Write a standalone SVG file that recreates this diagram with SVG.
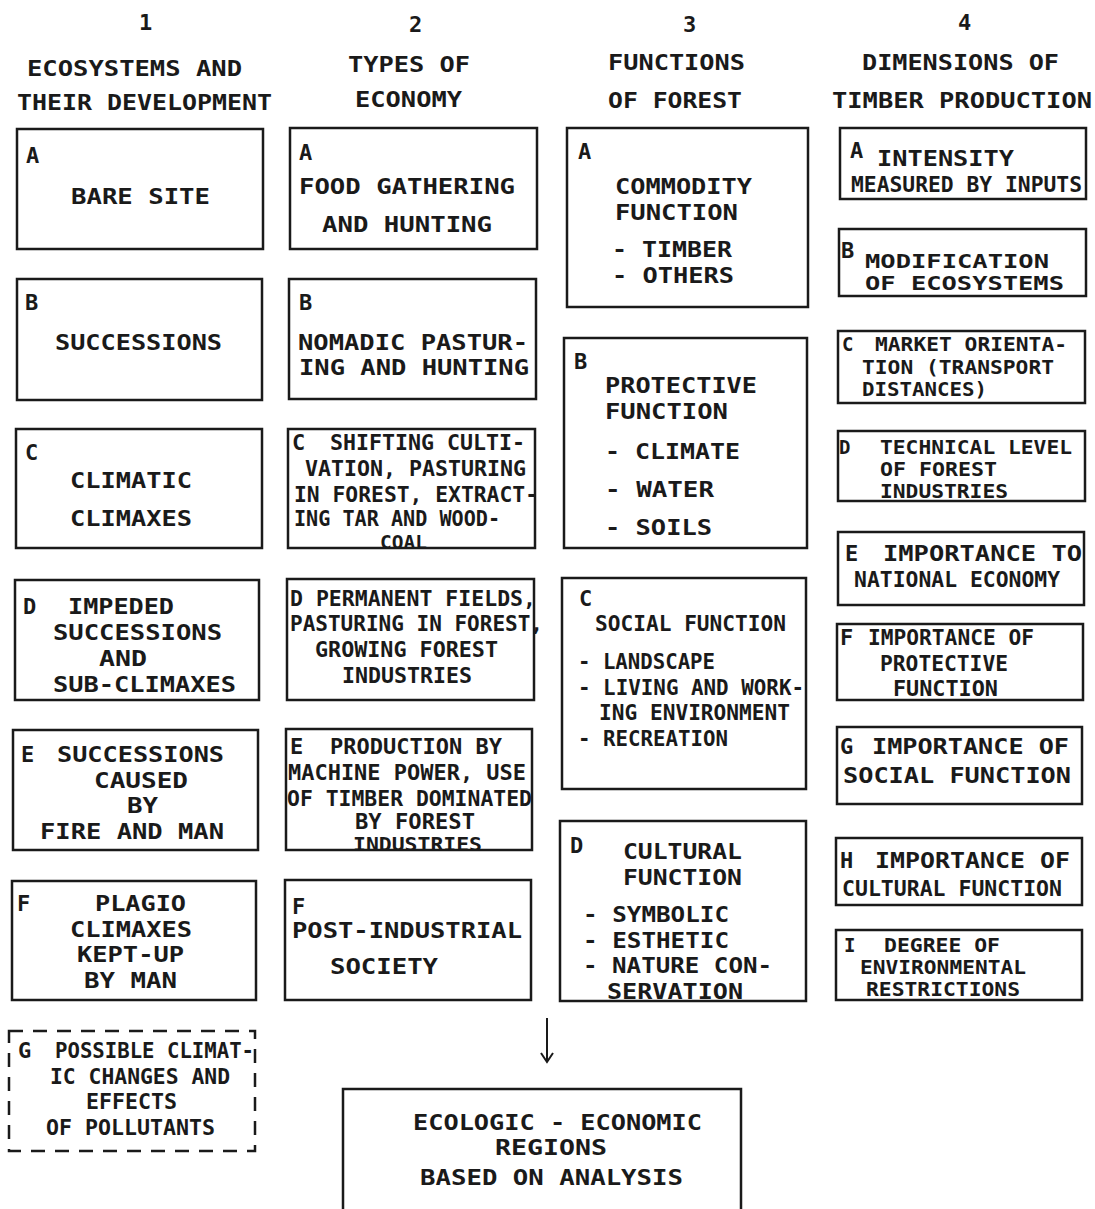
<svg xmlns="http://www.w3.org/2000/svg" width="1095" height="1209" viewBox="0 0 1095 1209">
<defs>
<style>
.bx{fill:#fff;stroke:#1a1a1a;stroke-width:2.5}
.dash{fill:#fff;stroke:#1a1a1a;stroke-width:2.5;stroke-dasharray:14 10}
text{font-family:"DejaVu Sans Mono","Liberation Mono",monospace;font-size:22px;font-weight:bold;fill:#1a1a1a}
.s{font-size:19px}
.ln{stroke:#1a1a1a;stroke-width:2;fill:none}
</style>
<marker id="ah" viewBox="0 0 14 14" refX="12" refY="7" markerWidth="14" markerHeight="14" markerUnits="userSpaceOnUse" orient="auto">
<path d="M3,1 L12,7 L3,13" class="ln"/>
</marker>
</defs>
<rect width="1095" height="1209" fill="#fff"/>

<g id="headers">
<text x="139" y="30" font-weight="normal">1</text>
<text x="409" y="32">2</text>
<text x="683" y="32">3</text>
<text x="958" y="30">4</text>
<text x="27" y="76" textLength="215" lengthAdjust="spacingAndGlyphs">ECOSYSTEMS AND</text>
<text x="17" y="110" textLength="255" lengthAdjust="spacingAndGlyphs">THEIR DEVELOPMENT</text>
<text x="348" y="72" textLength="122" lengthAdjust="spacingAndGlyphs">TYPES OF</text>
<text x="355" y="107" textLength="107" lengthAdjust="spacingAndGlyphs">ECONOMY</text>
<text x="608" y="70" textLength="137" lengthAdjust="spacingAndGlyphs">FUNCTIONS</text>
<text x="608" y="108" textLength="134" lengthAdjust="spacingAndGlyphs">OF FOREST</text>
<text x="862" y="70" textLength="197" lengthAdjust="spacingAndGlyphs">DIMENSIONS OF</text>
<text x="832" y="108" textLength="260" lengthAdjust="spacingAndGlyphs">TIMBER PRODUCTION</text>
</g>

<!-- Column 1 -->
<g id="n1A">
<rect class="bx" x="17" y="129" width="246" height="120"/>
<text x="26" y="163">A</text>
<text x="71" y="204" textLength="139" lengthAdjust="spacingAndGlyphs">BARE SITE</text>
</g>
<g id="n1B">
<rect class="bx" x="17" y="279" width="245" height="121"/>
<text x="25" y="310">B</text>
<text x="55" y="350" textLength="167" lengthAdjust="spacingAndGlyphs">SUCCESSIONS</text>
</g>
<g id="n1C">
<rect class="bx" x="16" y="429" width="246" height="119"/>
<text x="25" y="460">C</text>
<text x="70" y="488" textLength="122" lengthAdjust="spacingAndGlyphs">CLIMATIC</text>
<text x="70" y="526" textLength="122" lengthAdjust="spacingAndGlyphs">CLIMAXES</text>
</g>
<g id="n1D">
<rect class="bx" x="15" y="580" width="244" height="120"/>
<text x="23" y="614">D</text>
<text x="68" y="614" textLength="106" lengthAdjust="spacingAndGlyphs">IMPEDED</text>
<text x="53" y="640" textLength="169" lengthAdjust="spacingAndGlyphs">SUCCESSIONS</text>
<text x="99" y="666" textLength="48" lengthAdjust="spacingAndGlyphs">AND</text>
<text x="53" y="692" textLength="183" lengthAdjust="spacingAndGlyphs">SUB-CLIMAXES</text>
</g>
<g id="n1E">
<rect class="bx" x="13" y="730" width="245" height="120"/>
<text x="21" y="762">E</text>
<text x="57" y="762" textLength="167" lengthAdjust="spacingAndGlyphs">SUCCESSIONS</text>
<text x="94" y="788" textLength="94" lengthAdjust="spacingAndGlyphs">CAUSED</text>
<text x="127" y="813" textLength="31" lengthAdjust="spacingAndGlyphs">BY</text>
<text x="40" y="839" textLength="184" lengthAdjust="spacingAndGlyphs">FIRE AND MAN</text>
</g>
<g id="n1F">
<rect class="bx" x="12" y="881" width="244" height="119"/>
<text x="17" y="911">F</text>
<text x="95" y="911" textLength="91" lengthAdjust="spacingAndGlyphs">PLAGIO</text>
<text x="70" y="937" textLength="122" lengthAdjust="spacingAndGlyphs">CLIMAXES</text>
<text x="77" y="962" textLength="107" lengthAdjust="spacingAndGlyphs">KEPT-UP</text>
<text x="84" y="988" textLength="93" lengthAdjust="spacingAndGlyphs">BY MAN</text>
</g>
<g id="n1G">
<rect class="dash" x="9" y="1031" width="246" height="120"/>
<text x="18" y="1058">G</text>
<text x="55" y="1058" textLength="199" lengthAdjust="spacingAndGlyphs">POSSIBLE CLIMAT-</text>
<text x="50" y="1084" textLength="180" lengthAdjust="spacingAndGlyphs">IC CHANGES AND</text>
<text x="86" y="1109" textLength="91" lengthAdjust="spacingAndGlyphs">EFFECTS</text>
<text x="46" y="1135" textLength="169" lengthAdjust="spacingAndGlyphs">OF POLLUTANTS</text>
</g>

<!-- Column 2 -->
<g id="n2A">
<rect class="bx" x="290" y="128" width="247" height="121"/>
<text x="299" y="160">A</text>
<text x="299" y="194" textLength="216" lengthAdjust="spacingAndGlyphs">FOOD GATHERING</text>
<text x="322" y="232" textLength="170" lengthAdjust="spacingAndGlyphs">AND HUNTING</text>
</g>
<g id="n2B">
<rect class="bx" x="289" y="279" width="247" height="120"/>
<text x="299" y="310">B</text>
<text x="298" y="350" textLength="230" lengthAdjust="spacingAndGlyphs">NOMADIC PASTUR-</text>
<text x="299" y="375" textLength="230" lengthAdjust="spacingAndGlyphs">ING AND HUNTING</text>
</g>
<g id="n2C">
<rect class="bx" x="288" y="429" width="247" height="119"/>
<text x="292" y="450">C</text>
<text x="330" y="450" textLength="195" lengthAdjust="spacingAndGlyphs">SHIFTING CULTI-</text>
<text x="305" y="476" textLength="221" lengthAdjust="spacingAndGlyphs">VATION, PASTURING</text>
<text x="294" y="502" textLength="244" lengthAdjust="spacingAndGlyphs">IN FOREST, EXTRACT-</text>
<text x="294" y="526" textLength="206" lengthAdjust="spacingAndGlyphs">ING TAR AND WOOD-</text>
<text class="s" x="380" y="549" textLength="47" lengthAdjust="spacingAndGlyphs">COAL</text>
</g>
<g id="n2D">
<rect class="bx" x="287" y="579" width="247" height="121"/>
<text x="290" y="606" textLength="246" lengthAdjust="spacingAndGlyphs">D PERMANENT FIELDS,</text>
<text x="290" y="631" textLength="253" lengthAdjust="spacingAndGlyphs">PASTURING IN FOREST,</text>
<text x="315" y="657" textLength="183" lengthAdjust="spacingAndGlyphs">GROWING FOREST</text>
<text x="342" y="683" textLength="130" lengthAdjust="spacingAndGlyphs">INDUSTRIES</text>
</g>
<g id="n2E">
<rect class="bx" x="286" y="729" width="246" height="121"/>
<text x="290" y="754">E</text>
<text x="330" y="754" textLength="172" lengthAdjust="spacingAndGlyphs">PRODUCTION BY</text>
<text x="288" y="780" textLength="238" lengthAdjust="spacingAndGlyphs">MACHINE POWER, USE</text>
<text x="287" y="806" textLength="245" lengthAdjust="spacingAndGlyphs">OF TIMBER DOMINATED</text>
<text x="355" y="829" textLength="120" lengthAdjust="spacingAndGlyphs">BY FOREST</text>
<text class="s" x="353" y="851" textLength="129" lengthAdjust="spacingAndGlyphs">INDUSTRIES</text>
</g>
<g id="n2F">
<rect class="bx" x="285" y="880" width="246" height="120"/>
<text x="292" y="914">F</text>
<text x="292" y="938" textLength="230" lengthAdjust="spacingAndGlyphs">POST-INDUSTRIAL</text>
<text x="330" y="974" textLength="108" lengthAdjust="spacingAndGlyphs">SOCIETY</text>
</g>

<!-- Column 3 -->
<g id="n3A">
<rect class="bx" x="567" y="128" width="241" height="179"/>
<text x="578" y="159">A</text>
<text x="615" y="194" textLength="137" lengthAdjust="spacingAndGlyphs">COMMODITY</text>
<text x="615" y="220" textLength="123" lengthAdjust="spacingAndGlyphs">FUNCTION</text>
<text x="612" y="257" textLength="120" lengthAdjust="spacingAndGlyphs">- TIMBER</text>
<text x="612" y="283" textLength="122" lengthAdjust="spacingAndGlyphs">- OTHERS</text>
</g>
<g id="n3B">
<rect class="bx" x="564" y="338" width="243" height="210"/>
<text x="574" y="369">B</text>
<text x="605" y="393" textLength="152" lengthAdjust="spacingAndGlyphs">PROTECTIVE</text>
<text x="605" y="419" textLength="123" lengthAdjust="spacingAndGlyphs">FUNCTION</text>
<text x="605" y="459" textLength="135" lengthAdjust="spacingAndGlyphs">- CLIMATE</text>
<text x="605" y="497" textLength="109" lengthAdjust="spacingAndGlyphs">- WATER</text>
<text x="605" y="535" textLength="107" lengthAdjust="spacingAndGlyphs">- SOILS</text>
</g>
<g id="n3C">
<rect class="bx" x="562" y="578" width="244" height="211"/>
<text x="579" y="606">C</text>
<text x="595" y="631" textLength="191" lengthAdjust="spacingAndGlyphs">SOCIAL FUNCTION</text>
<text x="578" y="669" textLength="137" lengthAdjust="spacingAndGlyphs">- LANDSCAPE</text>
<text x="578" y="695" textLength="226" lengthAdjust="spacingAndGlyphs">- LIVING AND WORK-</text>
<text x="599" y="720" textLength="191" lengthAdjust="spacingAndGlyphs">ING ENVIRONMENT</text>
<text x="578" y="746" textLength="150" lengthAdjust="spacingAndGlyphs">- RECREATION</text>
</g>
<g id="n3D">
<rect class="bx" x="560" y="821" width="246" height="180"/>
<text x="570" y="853">D</text>
<text x="623" y="859" textLength="119" lengthAdjust="spacingAndGlyphs">CULTURAL</text>
<text x="623" y="885" textLength="119" lengthAdjust="spacingAndGlyphs">FUNCTION</text>
<text x="583" y="922" textLength="146" lengthAdjust="spacingAndGlyphs">- SYMBOLIC</text>
<text x="583" y="948" textLength="146" lengthAdjust="spacingAndGlyphs">- ESTHETIC</text>
<text x="583" y="973" textLength="189" lengthAdjust="spacingAndGlyphs">- NATURE CON-</text>
<text x="607" y="999" textLength="136" lengthAdjust="spacingAndGlyphs">SERVATION</text>
</g>

<!-- Column 4 -->
<g id="n4A">
<rect class="bx" x="840" y="128" width="246" height="71"/>
<text x="850" y="158">A</text>
<text x="877" y="166" textLength="137" lengthAdjust="spacingAndGlyphs">INTENSITY</text>
<text x="851" y="192" textLength="231" lengthAdjust="spacingAndGlyphs">MEASURED BY INPUTS</text>
</g>
<g id="n4B">
<rect class="bx" x="839" y="229" width="247" height="67"/>
<text x="841" y="258">B</text>
<text class="s" x="865" y="268" textLength="184" lengthAdjust="spacingAndGlyphs">MODIFICATION</text>
<text class="s" x="865" y="290" textLength="199" lengthAdjust="spacingAndGlyphs">OF ECOSYSTEMS</text>
</g>
<g id="n4C">
<rect class="bx" x="838" y="331" width="247" height="72"/>
<text class="s" x="842" y="351">C</text>
<text class="s" x="875" y="351" textLength="192" lengthAdjust="spacingAndGlyphs">MARKET ORIENTA-</text>
<text class="s" x="862" y="374" textLength="192" lengthAdjust="spacingAndGlyphs">TION (TRANSPORT</text>
<text class="s" x="862" y="396" textLength="125" lengthAdjust="spacingAndGlyphs">DISTANCES)</text>
</g>
<g id="n4D">
<rect class="bx" x="838" y="431" width="247" height="70"/>
<text class="s" x="839" y="454">D</text>
<text class="s" x="880" y="454" textLength="192" lengthAdjust="spacingAndGlyphs">TECHNICAL LEVEL</text>
<text class="s" x="880" y="476" textLength="117" lengthAdjust="spacingAndGlyphs">OF FOREST</text>
<text class="s" x="880" y="498" textLength="128" lengthAdjust="spacingAndGlyphs">INDUSTRIES</text>
</g>
<g id="n4E">
<rect class="bx" x="838" y="532" width="246" height="73"/>
<text x="845" y="561">E</text>
<text x="883" y="561" textLength="199" lengthAdjust="spacingAndGlyphs">IMPORTANCE TO</text>
<text x="854" y="587" textLength="206" lengthAdjust="spacingAndGlyphs">NATIONAL ECONOMY</text>
</g>
<g id="n4F">
<rect class="bx" x="837" y="624" width="246" height="76"/>
<text x="840" y="645">F</text>
<text x="868" y="645" textLength="166" lengthAdjust="spacingAndGlyphs">IMPORTANCE OF</text>
<text x="880" y="671" textLength="128" lengthAdjust="spacingAndGlyphs">PROTECTIVE</text>
<text x="893" y="696" textLength="105" lengthAdjust="spacingAndGlyphs">FUNCTION</text>
</g>
<g id="n4G">
<rect class="bx" x="837" y="727" width="245" height="77"/>
<text x="840" y="754">G</text>
<text x="872" y="754" textLength="197" lengthAdjust="spacingAndGlyphs">IMPORTANCE OF</text>
<text x="843" y="783" textLength="228" lengthAdjust="spacingAndGlyphs">SOCIAL FUNCTION</text>
</g>
<g id="n4H">
<rect class="bx" x="836" y="838" width="246" height="67"/>
<text x="840" y="868">H</text>
<text x="875" y="868" textLength="195" lengthAdjust="spacingAndGlyphs">IMPORTANCE OF</text>
<text x="842" y="896" textLength="220" lengthAdjust="spacingAndGlyphs">CULTURAL FUNCTION</text>
</g>
<g id="n4I">
<rect class="bx" x="836" y="930" width="246" height="70"/>
<text class="s" x="844" y="952">I</text>
<text class="s" x="884" y="952" textLength="116" lengthAdjust="spacingAndGlyphs">DEGREE OF</text>
<text class="s" x="860" y="974" textLength="166" lengthAdjust="spacingAndGlyphs">ENVIRONMENTAL</text>
<text class="s" x="866" y="996" textLength="154" lengthAdjust="spacingAndGlyphs">RESTRICTIONS</text>
</g>

<!-- Result -->
<g id="result">
<path class="bx" d="M343,1212 L343,1089 L741,1089 L741,1212"/>
<text x="413" y="1130" textLength="289" lengthAdjust="spacingAndGlyphs">ECOLOGIC - ECONOMIC</text>
<text x="495" y="1155" textLength="112" lengthAdjust="spacingAndGlyphs">REGIONS</text>
<text x="420" y="1185" textLength="263" lengthAdjust="spacingAndGlyphs">BASED ON ANALYSIS</text>
</g>

<g id="connectors">
<line class="ln" x1="547" y1="1018" x2="547" y2="1062" marker-end="url(#ah)"/>
</g>
</svg>
